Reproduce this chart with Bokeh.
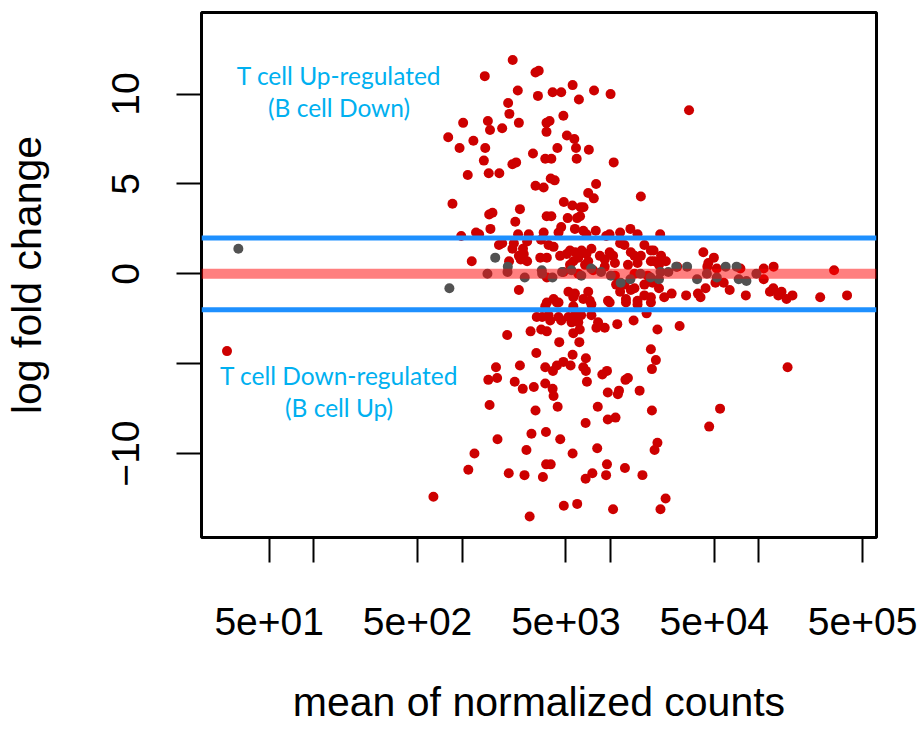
from bokeh.plotting import figure
from bokeh.models import FixedTicker, Span, Label, Range1d
from bokeh.embed import file_html
from bokeh.resources import INLINE

# ---- data (mean of normalized counts, log fold change) ----
sig_mean = [
    2190, 1420, 3120, 3280, 2370, 3240, 2040, 2080, 1015, 1490, 1540, 1860, 2410, 3700, 3700, 805,
    1190, 960, 1430, 3000, 1400, 2180, 2310, 3630, 1090, 1510, 1780, 3120, 3540, 860, 1520, 1600,
    2450, 3710, 2280, 1550, 985, 1240, 1300, 2380, 2810, 1770, 1860, 2230, 2570, 3400,
    5550, 4070, 4650, 7740, 6120, 10000, 4810, 3880, 5080, 5700, 4380, 5850, 7140, 3990, 5910, 10500,
    3950, 4200, 7990, 7070, 7710, 16000, 4840, 5530, 6280, 6570, 3990, 5140, 5950, 6230, 4650, 4460,
    5750, 6550, 6880, 7950, 9350, 13600, 21600,
    2740, 2180, 2600, 2410, 2480, 2740, 2070, 1160, 3720, 2410, 3720, 3630, 3180,
    3540, 9840, 11600, 15200, 3820, 4130, 3360, 3720, 4570, 5060, 5330, 5760, 6060, 5610, 5330, 6380,
    6880, 7430, 7070, 6730, 8470, 9140, 9860, 10400, 11600, 12400, 13700, 14500, 16000, 16900, 18700,
    19700, 21200, 13100, 15200, 9140, 10700,
    4810, 6060, 7630, 10700, 14500, 17800,
    10900, 12400, 14500, 16900, 19200, 21200, 11600, 12700, 13700, 15200, 16900, 18700, 5200, 5750,
    7070, 5610, 6550, 7250, 4130, 4460, 9610,
    3820, 2010, 2890, 3410, 3720, 3160, 1690, 2450, 3630, 1500, 1720, 2260, 2560, 3040, 3630, 1530,
    3120, 1730, 2930, 3670, 1210, 2710, 1100, 2060, 2630, 3500, 3680, 640, 2850,
    4350, 5610, 7430, 9860, 12700, 15200, 18700,
    5200, 5750, 6330, 5460, 6060, 5610, 6200, 7430, 8240, 8030, 9140, 3460, 3920, 4460, 4650, 11100,
    14300, 17500, 20700, 4510, 6160, 5550, 6820, 18700, 20200, 4090, 4350, 4810, 5380, 6550, 6820,
    8800, 9460, 12600, 13100, 19000, 6930, 4070, 4130, 9580, 11200, 11400, 15700, 4400, 8200, 19000,
    9580, 10800, 6790, 4580, 8130, 5550, 20700, 19800, 3950, 9460, 12500, 7540, 6790, 9330, 16400,
    23500, 4840, 5960, 10400, 21700,
    33800, 19500, 21900, 23600, 18700, 42200, 49700, 45600, 44900, 107700, 125600, 321000, 107700,
    118600, 125000, 135000, 142000, 153500, 168300, 258800, 392600, 23000, 25800, 32300, 38800, 40400,
    43700, 50900, 57900, 63500, 81600, 29200, 52000, 75000, 28100,
    156000, 54700, 46200, 26,
]
sig_lfc = [
    11.9, 11.0, 11.2, 11.3, 10.2, 9.9, 9.5, 8.9, 8.4, 8.5, 8.0, 8.1, 8.4, 8.4, 7.9, 7.6,
    7.4, 7.0, 7.0, 6.7, 6.3, 6.1, 6.2, 6.4, 5.5, 5.6, 5.6, 4.9, 4.8, 3.9, 3.3, 3.4,
    3.6, 3.2, 2.9, 2.5, 2.1, 2.3, 2.2, 2.2, 2.2, 1.6, 1.7, 1.7, 1.4, 1.9,
    10.5, 10.1, 10.1, 10.2, 9.7, 10.0, 8.8, 8.5, 7.7, 7.5, 7.0, 7.0, 6.9, 6.4, 6.4, 6.2,
    5.3, 5.2, 5.0, 4.5, 4.2, 4.3, 4.0, 3.8, 3.7, 3.7, 3.2, 3.1, 3.1, 3.2, 2.6, 2.3,
    2.5, 2.4, 2.2, 2.4, 2.1, 2.5, 2.2,
    1.8, 1.4, 1.1, 1.0, 0.8, 0.7, 0.7, 0.7, -0.2, -0.9, -1.6, -1.8, -2.4,
    2.3, 2.2, 2.3, 2.2, 1.6, 1.5, 0.9, 0.9, 1.0, 1.1, 1.3, 1.2, 0.9, 0.7, 0.5, 1.3,
    1.1, 1.4, 0.7, 0.5, 1.0, 0.8, 1.2, 1.0, 1.7, 1.6, 1.2, 1.0, 1.0, 1.6, 1.3,
    0.7, 0.5, 0.5, 0.6, 0.4, 0.6,
    0.1, 0.0, 0.2, -0.1, 0.0, -0.1,
    -0.6, -0.6, -0.8, -0.6, -0.5, -0.8, -1.0, -1.4, -0.9, -1.5, -1.2, -1.3, -1.0, -1.1,
    -1.0, -1.3, -1.4, -1.5, -1.4, -1.6, -1.5,
    -2.3, -3.4, -3.2, -3.1, -3.2, -4.4, -5.2, -5.1, -5.2, -5.9, -5.8, -6.0, -6.4, -6.3, -6.1, -7.3,
    -7.6, -9.2, -8.9, -8.8, -10.0, -9.8, -10.9, -11.1, -11.2, -11.3, -10.6, -12.4, -13.5,
    -1.6, -1.8, -1.7, -1.6, -1.6, -1.7, -1.6,
    -2.4, -2.3, -2.3, -2.7, -2.7, -3.3, -3.1, -2.3, -2.7, -3.0, -3.0, -2.4, -2.6, -2.4, -2.6, -2.8,
    -2.6, -2.2, -3.1, -3.8, -3.8, -4.5, -4.7, -4.2, -4.8, -5.4, -5.1, -4.9, -5.1, -5.2, -5.4,
    -5.6, -5.4, -5.9, -5.8, -5.3, -6.0, -6.4, -6.8, -6.6, -6.7, -6.5, -6.5, -7.4, -7.4, -7.6,
    -8.1, -8.0, -8.3, -9.2, -9.7, -10.0, -9.4, -9.8, -10.6, -10.6, -10.8, -11.1, -11.4, -11.2, -11.2,
    -12.5, -12.9, -12.8, -13.1, -13.1,
    9.1, 1.3, 1.0, 0.7, 0.7, 1.2, 0.9, 0.6, 0.4, 0.3, 0.4, 0.2, -0.3,
    -1.0, -0.8, -1.2, -1.0, -1.4, -1.2, -1.3, -1.2, -1.3, -1.1, -1.2, -1.1, -1.3,
    -0.8, -0.5, -0.5, -0.9, -1.2, -2.9, 0.3, 0.3, 0.4,
    -5.2, -7.5, -8.5, -4.3,
]
nonsig_mean = [
    31, 1670, 2030, 2640, 820, 1480, 2020, 3460, 3440, 4060, 4710, 5450, 6350, 7400, 8630, 10050,
    11700, 13600, 15900, 18600, 21700, 21200, 27700, 32800, 38300, 59700, 70700, 73100, 82400,
    96100, 24500, 44600, 52000,
]
nonsig_lfc = [
    1.4, 0.9, 0.4, -0.2, -0.8, 0.0, 0.1, 0.0, 0.2, -0.2, 0.1, 0.2, -0.1, 0.3, 0.1, -0.1,
    -0.5, -0.3, 0.0, -0.2, 0.1, -0.3, 0.4, 0.4, -0.3, 0.4, 0.4, -0.3, -0.4,
    0.0, 0.1, 0.0, -0.2,
]

x_major = [50, 500, 5000, 50000, 500000]
x_minor = [100, 1000, 10000, 100000]
x_labels = ["5e+01", "5e+02", "5e+03", "5e+04", "5e+05"]
y_ticks = [-10, -5, 0, 5, 10]
y_labels = ["\u221210", "", "0", "5", "10"]
thresholds = [-2, 2]

FONT = "Liberation Sans"

p = figure(width=924, height=729, x_axis_type="log",
           x_range=Range1d(17.5, 6.2e5), y_range=Range1d(-14.67, 14.54),
           output_backend="svg", toolbar_location=None,
           min_border_left=200, min_border_right=48,
           min_border_top=12, min_border_bottom=192)
p.grid.visible = False
p.outline_line_color = "black"
p.outline_line_width = 3
p.background_fill_color = "white"
p.border_fill_color = "white"

p.scatter(x=sig_mean, y=sig_lfc, size=10, fill_color="#CD0000", line_color=None)
p.scatter(x=nonsig_mean, y=nonsig_lfc, size=10, fill_color="#525252", line_color=None)

p.add_layout(Span(location=0, dimension="width", line_color="#FF0000",
                  line_alpha=0.5, line_width=10))
for t in thresholds:
    p.add_layout(Span(location=t, dimension="width", line_color="#1E90FF", line_width=5))

# axes
xa = p.xaxis[0]
xa.ticker = FixedTicker(ticks=x_major, minor_ticks=x_minor)
xa.major_label_overrides = {v: s for v, s in zip(x_major, x_labels)}
ya = p.yaxis[0]
ya.ticker = FixedTicker(ticks=y_ticks)
ya.major_label_overrides = {v: s for v, s in zip(y_ticks, y_labels)}
ya.major_label_orientation = "vertical"

for ax in (xa, ya):
    ax.axis_line_color = None
    ax.major_tick_line_color = "black"
    ax.major_tick_line_width = 2
    ax.major_tick_out = 25
    ax.major_tick_in = 0
    ax.minor_tick_line_color = "black"
    ax.minor_tick_line_width = 2
    ax.minor_tick_out = 25
    ax.minor_tick_in = 0
    ax.major_label_text_font = FONT
    ax.major_label_text_font_size = "39px"
    ax.major_label_text_color = "black"
    ax.axis_label_text_font = FONT
    ax.axis_label_text_font_size = "41px"
    ax.axis_label_text_font_style = "normal"
    ax.axis_label_text_color = "black"

xa.axis_label = "mean of normalized counts"
ya.axis_label = "log fold change"
xa.major_label_standoff = 45
xa.axis_label_standoff = 41
ya.major_label_standoff = 37
ya.axis_label_standoff = 60

# annotations
ann_color = "#00B0F0"
for txt, yv in [("T cell Up-regulated", 11.03), ("(B cell Down)", 9.27),
                ("T cell Down-regulated", -5.66), ("(B cell Up)", -7.42)]:
    p.add_layout(Label(x=148, y=yv, text=txt, text_align="center",
                       text_baseline="alphabetic", text_color=ann_color,
                       text_font="Lato", text_font_size="24.5px"))

open("out.html", "w").write(file_html(p, INLINE))
